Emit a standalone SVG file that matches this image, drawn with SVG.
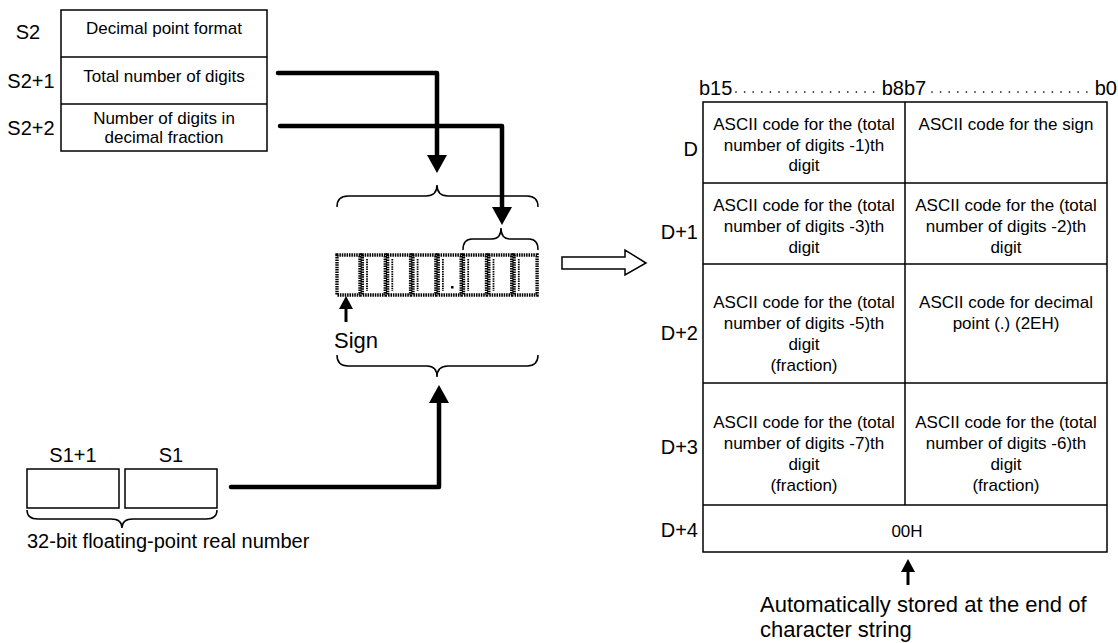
<svg xmlns="http://www.w3.org/2000/svg" width="1118" height="643" viewBox="0 0 1118 643">
<defs>
<style>
text{font-family:"Liberation Sans",Arial,sans-serif;fill:#000}
.lbl{font-size:20px}
.bx{font-size:17px;text-anchor:middle}
.big{font-size:22px}
.box{fill:#fff;stroke:#000;stroke-width:1.5}
.grid{fill:none;stroke:#000;stroke-width:1.5}
.thick{fill:none;stroke:#000;stroke-width:4.5;stroke-linecap:round;stroke-linejoin:round}
.thin{fill:none;stroke:#000;stroke-width:3}
.brace{fill:none;stroke:#000;stroke-width:1.5}
.cell{fill:none;stroke:#000;stroke-width:3.4;stroke-dasharray:1.5 0.9}
.cellin{fill:none;stroke:#000;stroke-width:1.8;stroke-dasharray:1.5 0.9}
.dots{fill:none;stroke:#000;stroke-width:1.7;stroke-linecap:round;stroke-dasharray:0 8.6}
</style>
<marker id="ah" markerUnits="userSpaceOnUse" markerWidth="20" markerHeight="20" refX="0" refY="10" orient="auto" overflow="visible">
<path d="M0,0 L18,10 L0,20 Z" fill="#000"/>
</marker>
<marker id="ahs" markerUnits="userSpaceOnUse" markerWidth="14" markerHeight="14" refX="0" refY="7" orient="auto" overflow="visible">
<path d="M0,0 L13,7 L0,14 Z" fill="#000"/>
</marker>
</defs>
<rect width="1118" height="643" fill="#fff"/>

<g id="s2-block">
<rect class="box" x="61" y="10" width="206" height="141"/>
<line class="grid" x1="61" y1="57" x2="267" y2="57"/>
<line class="grid" x1="61" y1="104" x2="267" y2="104"/>
<text class="lbl" x="28" y="39" text-anchor="middle">S2</text>
<text class="lbl" x="31" y="88" text-anchor="middle">S2+1</text>
<text class="lbl" x="31" y="135" text-anchor="middle">S2+2</text>
<text class="bx" x="164" y="34">Decimal point format</text>
<text class="bx" x="164" y="82">Total number of digits</text>
<text class="bx" x="164" y="124">Number of digits in</text>
<text class="bx" x="164" y="143">decimal fraction</text>
</g>

<g id="s1-block">
<rect class="box" x="27" y="469" width="92" height="39"/>
<rect class="box" x="125" y="469" width="92" height="39"/>
<text class="lbl" x="73" y="462" text-anchor="middle">S1+1</text>
<text class="lbl" x="171" y="462" text-anchor="middle">S1</text>
<path class="brace" d="M27,510 Q27,519 38,519 L111,519 Q122,519 122,528 Q122,519 133,519 L206,519 Q217,519 217,510"/>
<text class="lbl" x="27" y="548">32-bit floating-point real number</text>
</g>

<g id="string-cells">
<path class="brace" d="M337,207 Q337,196 348,196 L426,196 Q437,196 437,185 Q437,196 448,196 L527,196 Q538,196 538,207"/>
<path class="brace" d="M463,250 Q463,239 472,239 L492,239 Q501,239 501,228 Q501,239 510,239 L529,239 Q538,239 538,250"/>
<rect class="cell" x="337" y="255" width="23" height="40"/>
<rect class="cell" x="362.3" y="255" width="23" height="40"/>
<rect class="cell" x="387.6" y="255" width="23" height="40"/>
<rect class="cell" x="412.9" y="255" width="23" height="40"/>
<rect class="cell" x="438.2" y="255" width="23" height="40"/>
<rect class="cell" x="463.5" y="255" width="23" height="40"/>
<rect class="cell" x="488.8" y="255" width="23" height="40"/>
<rect class="cell" x="514.1" y="255" width="23" height="40"/>
<line class="cellin" x1="367" y1="259" x2="367" y2="291"/>
<line class="cellin" x1="392.3" y1="259" x2="392.3" y2="291"/>
<line class="cellin" x1="417.6" y1="259" x2="417.6" y2="291"/>
<line class="cellin" x1="442.9" y1="259" x2="442.9" y2="291"/>
<line class="cellin" x1="468.2" y1="259" x2="468.2" y2="291"/>
<line class="cellin" x1="493.5" y1="259" x2="493.5" y2="291"/>
<line class="cellin" x1="518.8" y1="259" x2="518.8" y2="291"/>
<rect x="451" y="286" width="2.5" height="2.5" fill="#000"/>
<path class="brace" d="M337,355 Q337,366 348,366 L427,366 Q437,366 437,377 Q437,366 448,366 L527,366 Q538,366 538,355"/>
<text class="big" x="334" y="348">Sign</text>
</g>

<g id="convert-arrow">
<polygon points="562,257 625,257 625,250 646,263 625,275 625,269 562,269" fill="#fff" stroke="#000" stroke-width="1.5"/>
</g>

<g id="d-table">
<text class="lbl" x="699" y="95">b15</text>
<line class="dots" x1="736" y1="92" x2="874" y2="92"/>
<text class="lbl" x="904" y="95" text-anchor="end">b8</text>
<text class="lbl" x="904" y="95">b7</text>
<line class="dots" x1="932" y1="92" x2="1091" y2="92"/>
<text class="lbl" x="1117" y="95" text-anchor="end">b0</text>
<rect class="box" x="703" y="102" width="404" height="450"/>
<line class="grid" x1="703" y1="183" x2="1107" y2="183"/>
<line class="grid" x1="703" y1="264" x2="1107" y2="264"/>
<line class="grid" x1="703" y1="383" x2="1107" y2="383"/>
<line class="grid" x1="703" y1="505" x2="1107" y2="505"/>
<line class="grid" x1="905" y1="102" x2="905" y2="505"/>
<text class="lbl" x="698" y="156" text-anchor="end">D</text>
<text class="lbl" x="698" y="239" text-anchor="end">D+1</text>
<text class="lbl" x="698" y="340" text-anchor="end">D+2</text>
<text class="lbl" x="698" y="454" text-anchor="end">D+3</text>
<text class="lbl" x="698" y="537" text-anchor="end">D+4</text>
<text class="bx" x="804" y="130">ASCII code for the (total<tspan x="804" dy="21">number of digits -1)th</tspan><tspan x="804" dy="20">digit</tspan></text>
<text class="bx" x="1006" y="130">ASCII code for the sign</text>
<text class="bx" x="804" y="211">ASCII code for the (total<tspan x="804" dy="21">number of digits -3)th</tspan><tspan x="804" dy="21">digit</tspan></text>
<text class="bx" x="1006" y="211">ASCII code for the (total<tspan x="1006" dy="21">number of digits -2)th</tspan><tspan x="1006" dy="21">digit</tspan></text>
<text class="bx" x="804" y="308">ASCII code for the (total<tspan x="804" dy="21">number of digits -5)th</tspan><tspan x="804" dy="21">digit</tspan><tspan x="804" dy="21">(fraction)</tspan></text>
<text class="bx" x="1006" y="308">ASCII code for decimal<tspan x="1006" dy="21">point (.) (2EH)</tspan></text>
<text class="bx" x="804" y="428">ASCII code for the (total<tspan x="804" dy="21">number of digits -7)th</tspan><tspan x="804" dy="21">digit</tspan><tspan x="804" dy="21">(fraction)</tspan></text>
<text class="bx" x="1006" y="428">ASCII code for the (total<tspan x="1006" dy="21">number of digits -6)th</tspan><tspan x="1006" dy="21">digit</tspan><tspan x="1006" dy="21">(fraction)</tspan></text>
<text class="bx" x="907" y="537">00H</text>
<text class="big" x="760" y="612">Automatically stored at the end of</text>
<text class="big" x="760" y="637">character string</text>
</g>

<g id="connectors">
<path class="thick" d="M278,73 L437,73 L437,155" marker-end="url(#ah)"/>
<path class="thick" d="M280,126 L502,126 L502,207" marker-end="url(#ah)"/>
<path class="thick" d="M231,487 L439,487 L439,403" marker-end="url(#ah)"/>
<path class="thin" d="M346,322 L346,309" marker-end="url(#ahs)"/>
<path class="thin" d="M908,585 L908,572" marker-end="url(#ahs)"/>
</g>
</svg>
